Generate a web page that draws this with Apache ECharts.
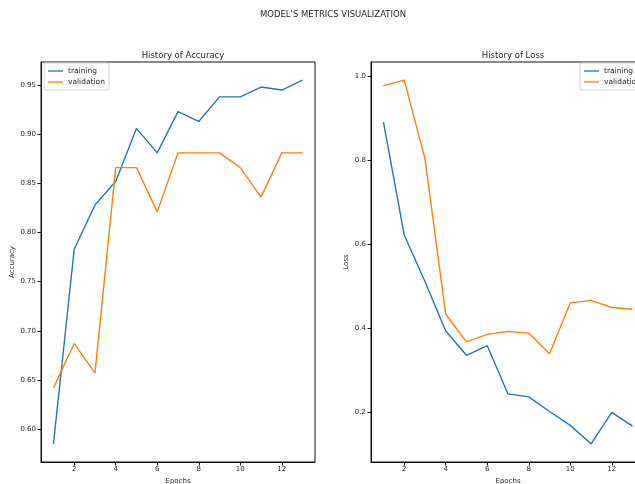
<!DOCTYPE html>
<html>
<head>
<meta charset="utf-8">
<script src="https://cdn.jsdelivr.net/npm/echarts@6/dist/echarts.min.js"></script>
<style>
  html, body { margin: 0; padding: 0; background: #fff; overflow: hidden; }
  #chart { width: 666px; height: 484px; }
</style>
</head>
<body>
<div id="chart"></div>
<script>
// Training history per epoch
const epochs = [1, 2, 3, 4, 5, 6, 7, 8, 9, 10, 11, 12, 13];
const trainAccuracy = [0.585, 0.783, 0.828, 0.852, 0.906, 0.881, 0.923, 0.913, 0.938, 0.938, 0.948, 0.945, 0.955];
const valAccuracy = [0.642, 0.687, 0.657, 0.866, 0.866, 0.821, 0.881, 0.881, 0.881, 0.866, 0.836, 0.881, 0.881];
const trainLoss = [0.891, 0.622, 0.511, 0.393, 0.335, 0.358, 0.243, 0.236, 0.201, 0.168, 0.124, 0.199, 0.166];
const valLoss = [0.978, 0.991, 0.804, 0.433, 0.367, 0.385, 0.392, 0.388, 0.339, 0.460, 0.466, 0.449, 0.445];

// Tick labels
const epochTicks = [2, 4, 6, 8, 10, 12];
const accuracyTicks = [0.60, 0.65, 0.70, 0.75, 0.80, 0.85, 0.90, 0.95];
const lossTicks = [0.2, 0.4, 0.6, 0.8, 1.0];

const BLUE = '#1f77b4';
const ORANGE = '#ff7f0e';
const FONT = 'DejaVu Sans';
const TEXT = '#262626';

const pairs = (ys) => epochs.map((e, i) => [e, ys[i]]);

// Same 5% padding that the data range gets on each side
function padded(values) {
  const lo = Math.min(...values), hi = Math.max(...values);
  const m = (hi - lo) * 0.05;
  return [lo - m, hi + m];
}
const [xMin, xMax] = padded(epochs);
const [accMin, accMax] = padded(trainAccuracy.concat(valAccuracy));
const [lossMin, lossMax] = padded(trainLoss.concat(valLoss));

function xAxis(gridIndex) {
  return {
    type: 'value', gridIndex, min: xMin, max: xMax,
    name: 'Epochs', nameLocation: 'middle', nameGap: 15,
    nameTextStyle: { fontFamily: FONT, fontSize: 7, color: TEXT },
    splitLine: { show: false },
    axisLine: { show: true, lineStyle: { color: '#111', width: 1 } },
    axisTick: { show: true, customValues: epochTicks, length: 3.5, lineStyle: { color: '#111' } },
    axisLabel: { customValues: epochTicks, fontFamily: FONT, fontSize: 7, color: TEXT, margin: 4 }
  };
}
function yAxis(gridIndex, min, max, ticks, digits, name, gap) {
  return {
    type: 'value', gridIndex, min, max,
    name, nameLocation: 'middle', nameGap: gap, nameRotate: 90,
    nameTextStyle: { fontFamily: FONT, fontSize: 7, color: TEXT },
    splitLine: { show: false },
    axisLine: { show: true, lineStyle: { color: '#111', width: 1 } },
    axisTick: { show: true, customValues: ticks, length: 3.5, lineStyle: { color: '#111' } },
    axisLabel: {
      customValues: ticks, fontFamily: FONT, fontSize: 7, color: TEXT, margin: 5,
      formatter: (v) => v.toFixed(digits)
    }
  };
}
function line(name, data, color, xi, yi) {
  return {
    type: 'line', name, data: pairs(data), xAxisIndex: xi, yAxisIndex: yi,
    symbol: 'none', lineStyle: { color, width: 1.4 }, itemStyle: { color },
    animation: false
  };
}
function legend(left) {
  return {
    left, top: 63, orient: 'vertical',
    data: ['training', 'validation'],
    icon: 'rect', itemWidth: 15, itemHeight: 1.3, itemGap: 3,
    padding: [4, 4, 4, 4],
    backgroundColor: '#fff', borderColor: '#d0d0d0', borderWidth: 1, borderRadius: 2,
    textStyle: { fontFamily: FONT, fontSize: 7.5, color: TEXT, padding: [0, 0, 0, 0] },
    selectedMode: false
  };
}
function grid(left) {
  return {
    left, top: 62, width: 274, height: 400,
    show: true, borderColor: '#111', borderWidth: 1,
    containLabel: false, outerBoundsMode: 'none'
  };
}

const chart = echarts.init(document.getElementById('chart'), null, { renderer: 'canvas' });
chart.setOption({
  backgroundColor: '#fff',
  animation: false,
  title: [
    { text: "MODEL'S METRICS VISUALIZATION", left: 'center', top: 5,
      textStyle: { fontFamily: FONT, fontSize: 8.5, fontWeight: 'normal', color: TEXT } },
    { text: 'History of Accuracy', left: 178, top: 46, textAlign: 'center',
      textStyle: { fontFamily: FONT, fontSize: 8.5, fontWeight: 'normal', color: TEXT } },
    { text: 'History of Loss', left: 508, top: 46, textAlign: 'center',
      textStyle: { fontFamily: FONT, fontSize: 8.5, fontWeight: 'normal', color: TEXT } }
  ],
  grid: [grid(41), grid(371)],
  xAxis: [xAxis(0), xAxis(1)],
  yAxis: [
    yAxis(0, accMin, accMax, accuracyTicks, 2, 'Accuracy', 25),
    yAxis(1, lossMin, lossMax, lossTicks, 1, 'Loss', 21)
  ],
  legend: [legend(44), legend(580)],
  series: [
    line('training', trainAccuracy, BLUE, 0, 0),
    line('validation', valAccuracy, ORANGE, 0, 0),
    line('training', trainLoss, BLUE, 1, 1),
    line('validation', valLoss, ORANGE, 1, 1)
  ]
});
</script>
</body>
</html>
